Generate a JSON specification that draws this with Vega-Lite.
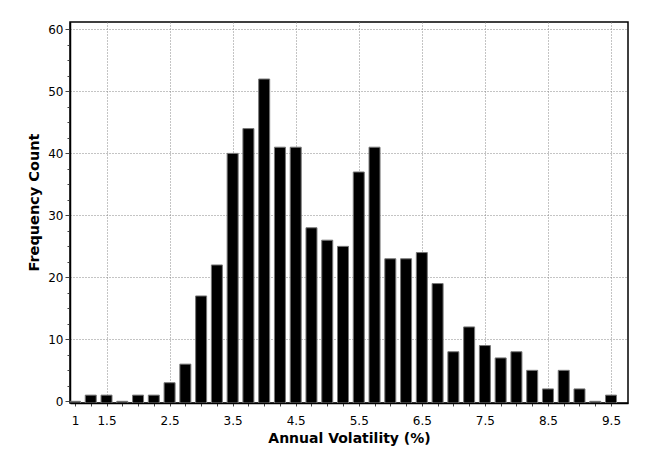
{
  "$schema": "https://vega.github.io/schema/vega-lite/v6.json",
  "autosize": "none",
  "width": 558,
  "height": 381,
  "padding": {"left": 70, "top": 22, "right": 22, "bottom": 66},
  "background": "white",
  "config": {
    "view": {"stroke": "black", "strokeWidth": 1.5},
    "font": "DejaVu Sans"
  },
  "data": {
    "values": [
      {"vol": 1.0, "count": 0}, {"vol": 1.25, "count": 1}, {"vol": 1.5, "count": 1},
      {"vol": 1.75, "count": 0}, {"vol": 2.0, "count": 1}, {"vol": 2.25, "count": 1},
      {"vol": 2.5, "count": 3}, {"vol": 2.75, "count": 6}, {"vol": 3.0, "count": 17},
      {"vol": 3.25, "count": 22}, {"vol": 3.5, "count": 40}, {"vol": 3.75, "count": 44},
      {"vol": 4.0, "count": 52}, {"vol": 4.25, "count": 41}, {"vol": 4.5, "count": 41},
      {"vol": 4.75, "count": 28}, {"vol": 5.0, "count": 26}, {"vol": 5.25, "count": 25},
      {"vol": 5.5, "count": 37}, {"vol": 5.75, "count": 41}, {"vol": 6.0, "count": 23},
      {"vol": 6.25, "count": 23}, {"vol": 6.5, "count": 24}, {"vol": 6.75, "count": 19},
      {"vol": 7.0, "count": 8}, {"vol": 7.25, "count": 12}, {"vol": 7.5, "count": 9},
      {"vol": 7.75, "count": 7}, {"vol": 8.0, "count": 8}, {"vol": 8.25, "count": 5},
      {"vol": 8.5, "count": 2}, {"vol": 8.75, "count": 5}, {"vol": 9.0, "count": 2},
      {"vol": 9.25, "count": 0}, {"vol": 9.5, "count": 1}
    ]
  },
  "mark": {"type": "bar", "size": 11, "color": "black", "stroke": "#777", "strokeWidth": 1, "clip": true},
  "encoding": {
    "x": {
      "field": "vol", "type": "quantitative",
      "scale": {"domain": [1, 9.69], "nice": false, "zero": false},
      "axis": {
        "title": "Annual Volatility (%)",
        "titleFont": "DejaVu Sans", "titleFontSize": 14, "titleFontWeight": "bold", "titleColor": "black",
        "titlePadding": 5,
        "values": [1,1.25,1.5,1.75,2,2.25,2.5,2.75,3,3.25,3.5,3.75,4,4.25,4.5,4.75,5,5.25,5.5,5.75,6,6.25,6.5,6.75,7,7.25,7.5,7.75,8,8.25,8.5,8.75,9,9.25,9.5],
        "labelExpr": "(datum.value == 1 || datum.value % 1 == 0.5) ? toString(datum.value) : ''",
        "labelFontSize": 12, "labelColor": "black", "labelFlush": false, "labelBound": false, "labelOverlap": false, "labelPadding": 9,
        "domainColor": "black", "domainWidth": 1.5,
        "tickColor": "#444", "tickSize": 3,
        "grid": true, "gridColor": "#888", "gridDash": [1, 2], "gridWidth": 1,
        "gridOpacity": {"condition": {"test": "datum.value % 1 == 0.5", "value": 1}, "value": 0}
      }
    },
    "y": {
      "field": "count", "type": "quantitative",
      "scale": {"domain": [-0.27, 61.2], "nice": false, "zero": false},
      "axis": {
        "title": "Frequency Count",
        "titleFont": "DejaVu Sans", "titleFontSize": 14.5, "titleFontWeight": "bold", "titleColor": "black",
        "titleX": -36, "titleY": 180, "titleAngle": -90, "titleAlign": "center", "titleBaseline": "middle",
        "values": [0,2.5,5,7.5,10,12.5,15,17.5,20,22.5,25,27.5,30,32.5,35,37.5,40,42.5,45,47.5,50,52.5,55,57.5,60],
        "labelExpr": "datum.value % 10 == 0 ? toString(datum.value) : ''",
        "labelFontSize": 12, "labelColor": "black", "labelFlush": false, "labelOverlap": false, "labelPadding": 2,
        "domainColor": "black", "domainWidth": 1.5,
        "tickColor": "#444",
        "tickSize": {"condition": {"test": "datum.value % 10 == 0", "value": 5}, "value": 3},
        "grid": true, "gridColor": "#888", "gridDash": [1, 2], "gridWidth": 1,
        "gridOpacity": {"condition": {"test": "datum.value % 10 == 0 && datum.value > 0", "value": 1}, "value": 0}
      }
    },
    "y2": {"datum": -0.27}
  }
}
